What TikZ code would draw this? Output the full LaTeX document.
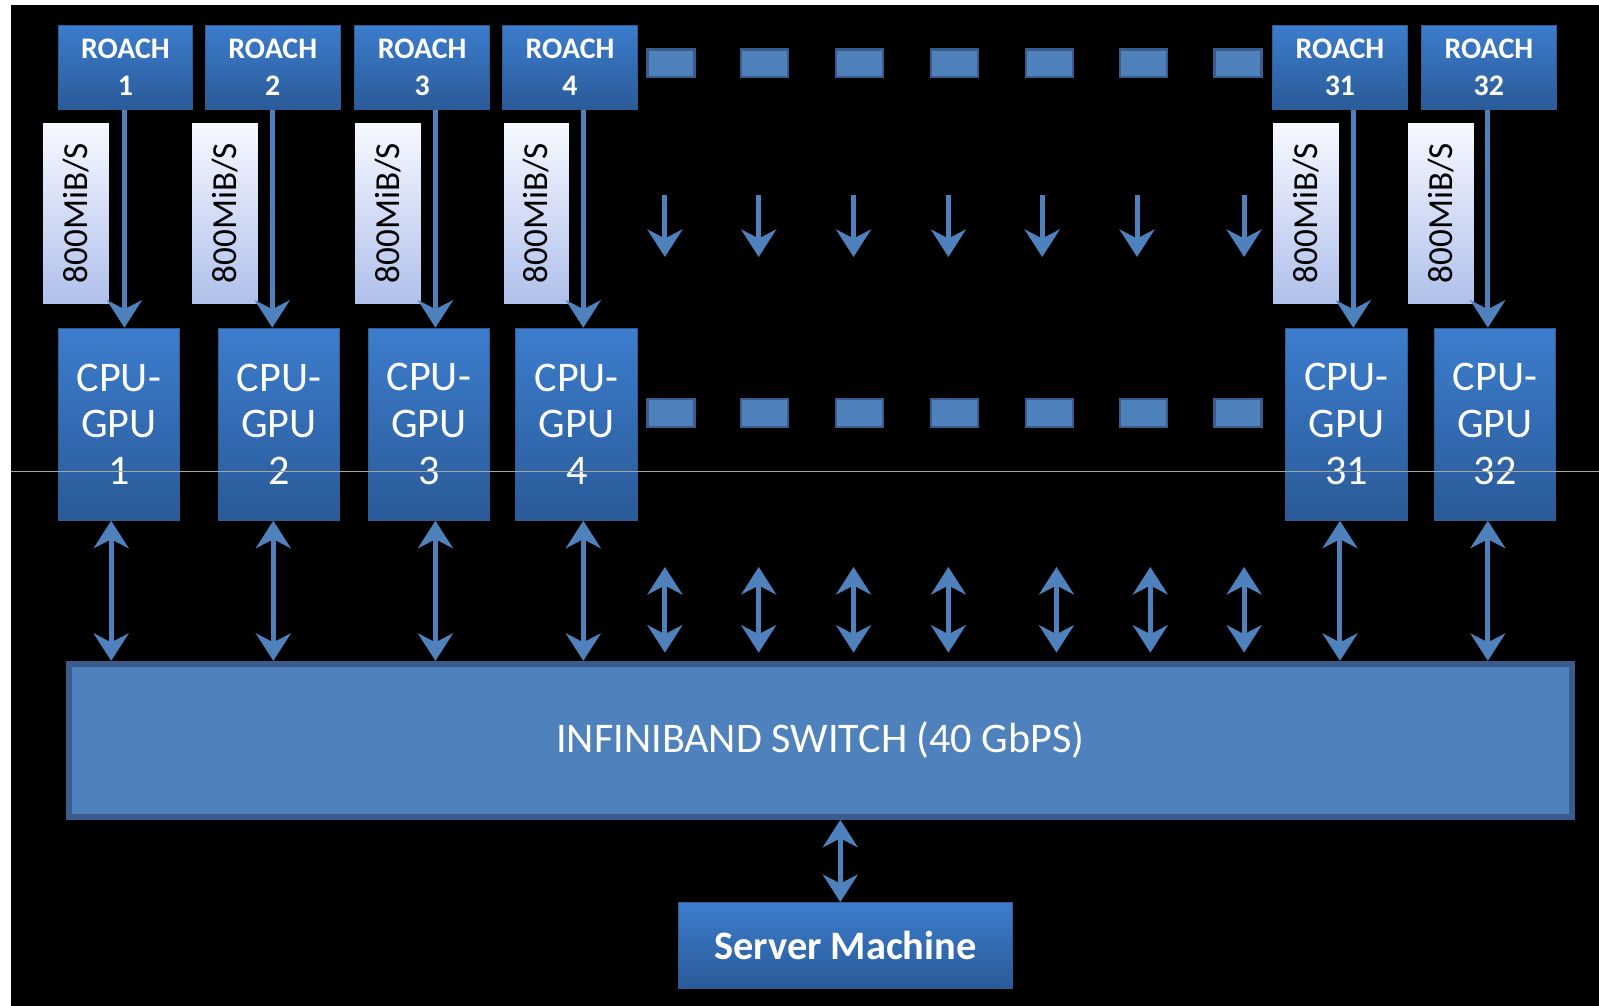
\documentclass[tikz,border=0pt]{standalone}
\usepackage{fontspec}
\setmainfont{Carlito}
\usetikzlibrary{arrows.meta,positioning}

\definecolor{boxtop}{RGB}{60,125,205}
\definecolor{boxbot}{RGB}{42,90,152}
\definecolor{boxline}{RGB}{52,92,148}
\definecolor{flowblue}{RGB}{79,129,189}
\definecolor{switchline}{RGB}{58,92,140}
\definecolor{ratelight}{RGB}{246,249,255}
\definecolor{ratedark}{RGB}{176,192,236}

\begin{document}
\begin{tikzpicture}[
    x = 0.204mm,
    y = -0.204mm,
    unitbox/.style = {
        rectangle,
        draw=boxline,
        line width=0.6pt,
        top color=boxtop,
        bottom color=boxbot,
        text=white,
        inner sep=0pt,
        align=center
    },
    roachbox/.style = {
        unitbox,
        minimum width=26.9mm,
        minimum height=16.7mm,
        font=\fontsize{17}{21.5}\selectfont\bfseries
    },
    cpubox/.style = {
        unitbox,
        minimum width=24.3mm,
        minimum height=38.4mm,
        font=\fontsize{24}{26.7}\selectfont
    },
    ratebox/.style = {
        rectangle,
        rotate=90,
        draw=black,
        line width=0.4pt,
        top color=ratelight,
        bottom color=ratedark,
        minimum width=36.3mm,
        minimum height=13.3mm,
        inner sep=0pt,
        font=\fontsize{20}{24}\selectfont
    },
    gapbox/.style = {
        rectangle,
        draw=switchline,
        line width=1.2pt,
        fill=flowblue,
        minimum width=9.4mm,
        minimum height=5.5mm
    },
    flow/.style = {
        draw=flowblue,
        line width=1mm,
        -{Stealth[length=5.5mm, width=7mm, inset=1.8mm]}
    },
    biflow/.style = {
        flow,
        {Stealth[length=5.5mm, width=7mm, inset=1.8mm]}-{Stealth[length=5.5mm, width=7mm, inset=1.8mm]}
    }
]

% page and background
\useasboundingbox (0,0) rectangle (1568,986);
\fill[white] (0,0) rectangle (1568,986);
\fill[black] (11,5) rectangle (1568,986);

% roach, rate and cpu columns
\foreach \i/\rx/\lx/\cx/\dx/\ux in {1/123/74.5/116.5/122/109, 2/267.5/220.5/273.5/267/268, 3/414/380.5/420.5/427/427, 4/559/526/565.5/572/572, 31/1314/1280.5/1320.5/1327/1314, 32/1460/1413/1466/1459/1459} {
    \node[roachbox] (roach\i) at (\rx,66) {ROACH\\\i};
    \node[ratebox] (rate\i) at (\lx,209) {800MiB/S};
    \node[cpubox] (cpu\i) at (\cx,416) {CPU-\\GPU\\\i};
    \coordinate (dn\i) at (\dx,0);
    \coordinate (up\i) at (\ux,0);
}

\node[rectangle, draw=switchline, line width=1.2mm, fill=flowblue, text=white,
      minimum width=300.5mm, minimum height=30.6mm,
      font=\fontsize{24}{28}\selectfont] (switch) at (804.5,726) {INFINIBAND SWITCH (40 GbPS)};
\node[unitbox, minimum width=66.9mm, minimum height=17.1mm,
      font=\fontsize{23}{28}\selectfont\bfseries] (server) at (829,927) {Server Machine};
\coordinate (sv) at (824,0);

\foreach \i in {1,2,3,4,31,32} {
    \draw[flow] (roach\i.south -| dn\i) -- (cpu\i.north -| dn\i);
    \draw[biflow] (cpu\i.south -| up\i) -- (switch.north -| up\i);
}
\draw[biflow] (switch.south -| sv) -- (server.north -| sv);

% the gap between 4 and 31
\foreach \j/\gx/\ax/\bx in {1/658/652/652, 2/750/744/744, 3/843/837/837, 4/936/930/930, 5/1029/1022/1036, 6/1121/1115/1128, 7/1214/1220/1220} {
    \node[gapbox] (gapt\j) at (\gx,62) {};
    \node[gapbox] (gapb\j) at (\gx,405) {};
    \coordinate (ga\j) at (\ax,191);
    \coordinate (gz\j) at (\ax,252);
    \coordinate (ba\j) at (\bx,556);
    \coordinate (bz\j) at (\bx,640);
    \draw[flow] (ga\j) -- (gz\j);
    \draw[biflow] (ba\j) -- (bz\j);
}

\draw[gray!70, line width=0.3pt] (11,462) -- (1568,462);

\end{tikzpicture}
\end{document}
